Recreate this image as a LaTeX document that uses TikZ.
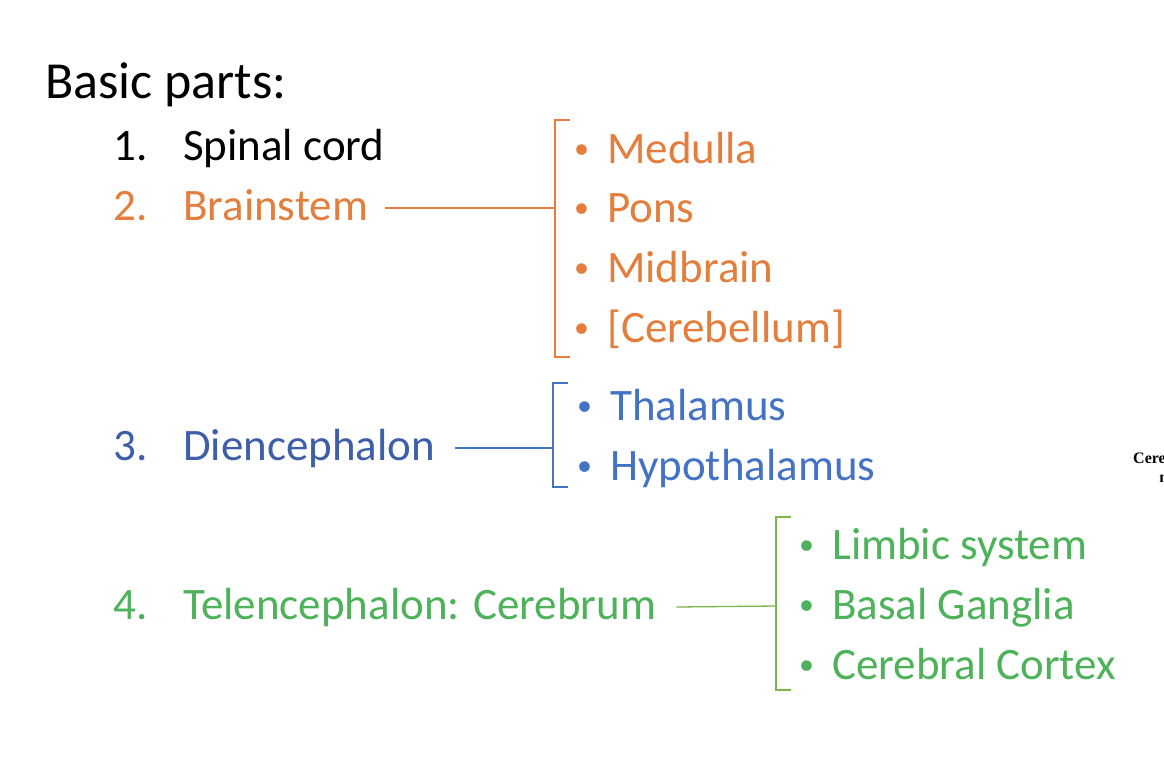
\documentclass[tikz,border=0pt]{standalone}
\usepackage{fontspec}
\setmainfont{Carlito}
\newfontfamily\serifcut{Liberation Serif}
\definecolor{orng}{HTML}{E47E3C}
\definecolor{blu}{HTML}{4472C4}
\definecolor{dblu}{HTML}{3D5EA8}
\definecolor{grn}{HTML}{4DB25A}
\definecolor{gline}{HTML}{7AB648}
\newcommand{\mybul}{\makebox[33pt][l]{\raisebox{5pt}{\fontsize{30}{30}\selectfont\textbullet}}}
\begin{document}
\begin{tikzpicture}[x=1pt,y=-1pt,
  txt/.style={anchor=base west,inner sep=0pt,font=\fontsize{45}{50}\selectfont},
  brk/.style={line width=1.3pt}]
\useasboundingbox (0,0) rectangle (1164,774);
\node[txt,font=\fontsize{52}{56}\selectfont] (title) at (45,98) {Basic parts:};
\node[txt] (n1) at (113,160) {1.};
\node[txt] (t1) at (183,160) {Spinal cord};
\node[txt,text=orng] (n2) at (113,220) {2.};
\node[txt,text=orng] (t2) at (183,220) {Brainstem};
\node[txt,text=dblu] (n3) at (113,460) {3.};
\node[txt,text=dblu] (t3) at (183,460) {Diencephalon};
\node[txt,text=grn] (n4) at (113,619) {4.};
\node[txt,text=grn] (t4) at (183,619) {Telencephalon: Cerebrum};
% orange
\foreach \y/\s [count=\i] in {163/Medulla,222/Pons,282/Midbrain,342/[Cerebellum]}{
  \node[txt,text=orng] (o\i) at (574,\y) {\mybul\s};}
\coordinate (ob1) at (555,208);
\draw[orng,brk] (570,120) -- (555,120) -- (555,357) -- (570,357);
\draw[orng,brk] (t2.base east) ++(17,-12) coordinate (oa) (oa) -- (ob1);
% blue
\foreach \y/\s [count=\i] in {420/Thalamus,480/Hypothalamus}{
  \node[txt,text=blu] (b\i) at (577,\y) {\mybul\s};}
\coordinate (bb1) at (553,448);
\draw[blu,brk] (568,383) -- (553,383) -- (553,487) -- (568,487);
\draw[blu,brk] (t3.base east) ++(20,-12) coordinate (ba) (ba) -- (bb1);
% green
\foreach \y/\s [count=\i] in {559/Limbic system,619/Basal Ganglia,679/Cerebral Cortex}{
  \node[txt,text=grn] (g\i) at (799,\y) {\mybul\s};}
\coordinate (gb1) at (776,606);
\draw[gline,brk] (791,517) -- (776,517) -- (776,690) -- (791,690);
\draw[gline,brk] (t4.base east) ++(20,-12) coordinate (ga) (ga) -- (gb1);
% cut-off text
\begin{scope}
\clip (0,0) rectangle (1164,774);
\node[inner sep=0pt,anchor=north west,align=center,font=\serifcut\bfseries\fontsize{16}{19}\selectfont] (cut) at (1133,452) {Cerebral\\n};
\end{scope}
\end{tikzpicture}
\end{document}
